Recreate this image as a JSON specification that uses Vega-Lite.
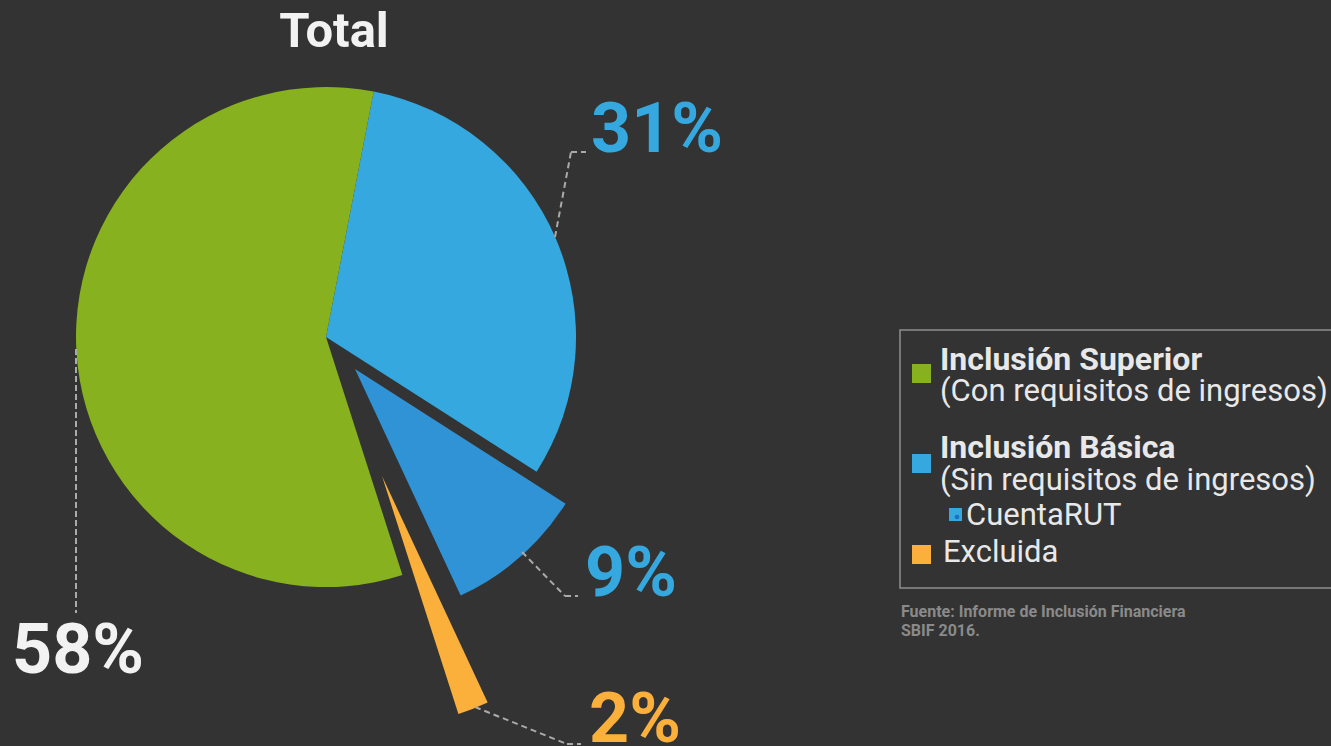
{
  "$schema": "https://vega.github.io/schema/vega-lite/v6.json",
  "width": 1331,
  "height": 746,
  "padding": 0,
  "autosize": {"type": "none"},
  "background": "#333333",
  "config": {"view": {"stroke": null}, "text": {"font": "Roboto"}},
  "datasets": {
    "segmentos": [
      {"segmento": "Inclusión Básica", "orden": 1, "valor": 31, "etiqueta": "31%", "detalle": "(Sin requisitos de ingresos)"},
      {"segmento": "CuentaRUT", "orden": 2, "valor": 9, "etiqueta": "9%", "detalle": ""},
      {"segmento": "Excluida", "orden": 3, "valor": 2, "etiqueta": "2%", "detalle": ""},
      {"segmento": "Inclusión Superior", "orden": 4, "valor": 58, "etiqueta": "58%", "detalle": "(Con requisitos de ingresos)"}
    ],
    "textos": [
      {"id": "titulo", "texto": "Total"},
      {"id": "fuente1", "texto": "Fuente: Informe de Inclusión Financiera"},
      {"id": "fuente2", "texto": "SBIF 2016."}
    ]
  },
  "layer": [
    {
      "data": {"name": "segmentos"},
      "transform": [
        {"stack": "valor", "groupby": [], "sort": [{"field": "orden"}], "as": ["v0", "v1"]},
        {"filter": "datum.segmento === 'Inclusión Básica' || datum.segmento === 'Inclusión Superior'"}
      ],
      "mark": {"type": "arc", "outerRadius": 250},
      "encoding": {
        "theta": {"field": "v0", "type": "quantitative", "scale": {"domain": [0, 100], "range": [0.1920, 6.4752]}},
        "theta2": {"field": "v1"},
        "color": {"field": "segmento", "type": "nominal", "legend": null,
          "scale": {"domain": ["Inclusión Superior", "Inclusión Básica", "CuentaRUT", "Excluida"], "range": ["#87b11e", "#34a8df", "#2f93d6", "#fbb03b"]}},
        "x": {"datum": 326, "type": "quantitative", "scale": {"domain": [0, 1331], "nice": false, "zero": false}, "axis": null},
        "y": {"datum": 337, "type": "quantitative", "scale": {"domain": [0, 746], "reverse": true, "nice": false, "zero": false}, "axis": null}
      }
    },
    {
      "data": {"name": "segmentos"},
      "transform": [
        {"stack": "valor", "groupby": [], "sort": [{"field": "orden"}], "as": ["v0", "v1"]},
        {"filter": "datum.segmento === 'CuentaRUT'"}
      ],
      "mark": {"type": "arc", "outerRadius": 250},
      "encoding": {
        "theta": {"field": "v0", "type": "quantitative"},
        "theta2": {"field": "v1"},
        "color": {"field": "segmento", "type": "nominal", "legend": null},
        "x": {"datum": 355, "type": "quantitative"},
        "y": {"datum": 369, "type": "quantitative"}
      }
    },
    {
      "data": {"name": "segmentos"},
      "transform": [
        {"stack": "valor", "groupby": [], "sort": [{"field": "orden"}], "as": ["v0", "v1"]},
        {"filter": "datum.segmento === 'Excluida'"}
      ],
      "mark": {"type": "arc", "outerRadius": 250},
      "encoding": {
        "theta": {"field": "v0", "type": "quantitative"},
        "theta2": {"field": "v1"},
        "color": {"field": "segmento", "type": "nominal", "legend": null},
        "x": {"datum": 382, "type": "quantitative"},
        "y": {"datum": 476, "type": "quantitative"}
      }
    },
    {
      "data": {"name": "segmentos"},
      "transform": [{"filter": "datum.segmento === 'Inclusión Básica'"}],
      "mark": {"type": "rule", "strokeDash": [6, 4], "strokeWidth": 2, "color": "#aaaaaa"},
      "encoding": {"x": {"datum": 555}, "y": {"datum": 237}, "x2": {"datum": 571}, "y2": {"datum": 152}}
    },
    {
      "data": {"name": "segmentos"},
      "transform": [{"filter": "datum.segmento === 'Inclusión Básica'"}],
      "mark": {"type": "rule", "strokeDash": [6, 4], "strokeWidth": 2, "color": "#aaaaaa"},
      "encoding": {"x": {"datum": 571}, "y": {"datum": 152}, "x2": {"datum": 586}, "y2": {"datum": 152}}
    },
    {
      "data": {"name": "segmentos"},
      "transform": [{"filter": "datum.segmento === 'CuentaRUT'"}],
      "mark": {"type": "rule", "strokeDash": [6, 4], "strokeWidth": 2, "color": "#aaaaaa"},
      "encoding": {"x": {"datum": 522}, "y": {"datum": 552}, "x2": {"datum": 565}, "y2": {"datum": 596}}
    },
    {
      "data": {"name": "segmentos"},
      "transform": [{"filter": "datum.segmento === 'CuentaRUT'"}],
      "mark": {"type": "rule", "strokeDash": [6, 4], "strokeWidth": 2, "color": "#aaaaaa"},
      "encoding": {"x": {"datum": 565}, "y": {"datum": 596}, "x2": {"datum": 578}, "y2": {"datum": 596}}
    },
    {
      "data": {"name": "segmentos"},
      "transform": [{"filter": "datum.segmento === 'Excluida'"}],
      "mark": {"type": "rule", "strokeDash": [6, 4], "strokeWidth": 2, "color": "#aaaaaa"},
      "encoding": {"x": {"datum": 475}, "y": {"datum": 707}, "x2": {"datum": 567}, "y2": {"datum": 744}}
    },
    {
      "data": {"name": "segmentos"},
      "transform": [{"filter": "datum.segmento === 'Excluida'"}],
      "mark": {"type": "rule", "strokeDash": [6, 4], "strokeWidth": 2, "color": "#aaaaaa"},
      "encoding": {"x": {"datum": 567}, "y": {"datum": 744}, "x2": {"datum": 581}, "y2": {"datum": 744}}
    },
    {
      "data": {"name": "segmentos"},
      "transform": [{"filter": "datum.segmento === 'Inclusión Superior'"}],
      "mark": {"type": "rule", "strokeDash": [6, 3], "strokeWidth": 2, "color": "#aaaaaa"},
      "encoding": {"x": {"datum": 76}, "y": {"datum": 349}, "x2": {"datum": 76}, "y2": {"datum": 613}}
    },
    {
      "data": {"name": "segmentos"},
      "transform": [{"filter": "datum.segmento === 'Inclusión Básica'"}],
      "mark": {"type": "text", "fontWeight": "bold", "fontSize": 70, "align": "left", "baseline": "alphabetic", "color": "#34a8df"},
      "encoding": {"text": {"field": "etiqueta"}, "x": {"datum": 591}, "y": {"datum": 152}}
    },
    {
      "data": {"name": "segmentos"},
      "transform": [{"filter": "datum.segmento === 'CuentaRUT'"}],
      "mark": {"type": "text", "fontWeight": "bold", "fontSize": 70, "align": "left", "baseline": "alphabetic", "color": "#34a8df"},
      "encoding": {"text": {"field": "etiqueta"}, "x": {"datum": 585}, "y": {"datum": 596}}
    },
    {
      "data": {"name": "segmentos"},
      "transform": [{"filter": "datum.segmento === 'Excluida'"}],
      "mark": {"type": "text", "fontWeight": "bold", "fontSize": 70, "align": "left", "baseline": "alphabetic", "color": "#fbb03b"},
      "encoding": {"text": {"field": "etiqueta"}, "x": {"datum": 589}, "y": {"datum": 742}}
    },
    {
      "data": {"name": "segmentos"},
      "transform": [{"filter": "datum.segmento === 'Inclusión Superior'"}],
      "mark": {"type": "text", "fontWeight": "bold", "fontSize": 70, "align": "left", "baseline": "alphabetic", "color": "#f2f2f2"},
      "encoding": {"text": {"field": "etiqueta"}, "x": {"datum": 12}, "y": {"datum": 673}}
    },
    {
      "data": {"name": "textos"},
      "transform": [{"filter": "datum.id === 'titulo'"}],
      "mark": {"type": "text", "fontWeight": "bold", "fontSize": 49, "align": "center", "baseline": "alphabetic", "color": "#f2f2f2"},
      "encoding": {"text": {"field": "texto"}, "x": {"datum": 334}, "y": {"datum": 47}}
    },
    {
      "data": {"name": "textos"},
      "transform": [{"filter": "datum.id === 'titulo'"}],
      "mark": {"type": "rect", "fill": null, "stroke": "#8f8f8f", "strokeWidth": 1.5},
      "encoding": {"x": {"datum": 900}, "y": {"datum": 330}, "x2": {"datum": 1345}, "y2": {"datum": 588}}
    },
    {
      "data": {"name": "segmentos"},
      "transform": [{"filter": "datum.segmento === 'Inclusión Superior'"}],
      "mark": {"type": "square", "size": 361, "filled": true, "opacity": 1},
      "encoding": {"color": {"field": "segmento", "type": "nominal", "legend": null}, "x": {"datum": 921.5}, "y": {"datum": 373.5}}
    },
    {
      "data": {"name": "segmentos"},
      "transform": [{"filter": "datum.segmento === 'Inclusión Básica'"}],
      "mark": {"type": "square", "size": 361, "filled": true, "opacity": 1},
      "encoding": {"color": {"field": "segmento", "type": "nominal", "legend": null}, "x": {"datum": 921.5}, "y": {"datum": 463.5}}
    },
    {
      "data": {"name": "segmentos"},
      "transform": [{"filter": "datum.segmento === 'Excluida'"}],
      "mark": {"type": "square", "size": 361, "filled": true, "opacity": 1},
      "encoding": {"color": {"field": "segmento", "type": "nominal", "legend": null}, "x": {"datum": 921.5}, "y": {"datum": 554.5}}
    },
    {
      "data": {"name": "segmentos"},
      "transform": [{"filter": "datum.segmento === 'CuentaRUT'"}],
      "mark": {"type": "square", "size": 169, "filled": true, "opacity": 1, "color": "#34a8df"},
      "encoding": {"x": {"datum": 955.5}, "y": {"datum": 514.5}}
    },
    {
      "data": {"name": "segmentos"},
      "transform": [{"filter": "datum.segmento === 'CuentaRUT'"}],
      "mark": {"type": "circle", "size": 22, "opacity": 1, "color": "#1f6fc0"},
      "encoding": {"x": {"datum": 957}, "y": {"datum": 517}}
    },
    {
      "data": {"name": "segmentos"},
      "transform": [{"filter": "datum.segmento === 'Inclusión Superior'"}],
      "mark": {"type": "text", "fontWeight": "bold", "fontSize": 32, "align": "left", "baseline": "alphabetic", "color": "#e8e8e8"},
      "encoding": {"text": {"field": "segmento"}, "x": {"datum": 940}, "y": {"datum": 370}}
    },
    {
      "data": {"name": "segmentos"},
      "transform": [{"filter": "datum.segmento === 'Inclusión Superior'"}],
      "mark": {"type": "text", "fontSize": 31, "align": "left", "baseline": "alphabetic", "color": "#e8e8e8"},
      "encoding": {"text": {"field": "detalle"}, "x": {"datum": 940}, "y": {"datum": 401}}
    },
    {
      "data": {"name": "segmentos"},
      "transform": [{"filter": "datum.segmento === 'Inclusión Básica'"}],
      "mark": {"type": "text", "fontWeight": "bold", "fontSize": 32, "align": "left", "baseline": "alphabetic", "color": "#e8e8e8"},
      "encoding": {"text": {"field": "segmento"}, "x": {"datum": 940}, "y": {"datum": 458}}
    },
    {
      "data": {"name": "segmentos"},
      "transform": [{"filter": "datum.segmento === 'Inclusión Básica'"}],
      "mark": {"type": "text", "fontSize": 31, "align": "left", "baseline": "alphabetic", "color": "#e8e8e8"},
      "encoding": {"text": {"field": "detalle"}, "x": {"datum": 940}, "y": {"datum": 490}}
    },
    {
      "data": {"name": "segmentos"},
      "transform": [{"filter": "datum.segmento === 'CuentaRUT'"}],
      "mark": {"type": "text", "fontSize": 31, "align": "left", "baseline": "alphabetic", "color": "#e8e8e8"},
      "encoding": {"text": {"field": "segmento"}, "x": {"datum": 966}, "y": {"datum": 525}}
    },
    {
      "data": {"name": "segmentos"},
      "transform": [{"filter": "datum.segmento === 'Excluida'"}],
      "mark": {"type": "text", "fontSize": 31, "align": "left", "baseline": "alphabetic", "color": "#e8e8e8"},
      "encoding": {"text": {"field": "segmento"}, "x": {"datum": 943}, "y": {"datum": 562}}
    },
    {
      "data": {"name": "textos"},
      "transform": [{"filter": "datum.id === 'fuente1'"}],
      "mark": {"type": "text", "fontWeight": "bold", "fontSize": 16, "align": "left", "baseline": "alphabetic", "color": "#8a8a8a"},
      "encoding": {"text": {"field": "texto"}, "x": {"datum": 901}, "y": {"datum": 617}}
    },
    {
      "data": {"name": "textos"},
      "transform": [{"filter": "datum.id === 'fuente2'"}],
      "mark": {"type": "text", "fontWeight": "bold", "fontSize": 16, "align": "left", "baseline": "alphabetic", "color": "#8a8a8a"},
      "encoding": {"text": {"field": "texto"}, "x": {"datum": 901}, "y": {"datum": 636}}
    }
  ]
}
